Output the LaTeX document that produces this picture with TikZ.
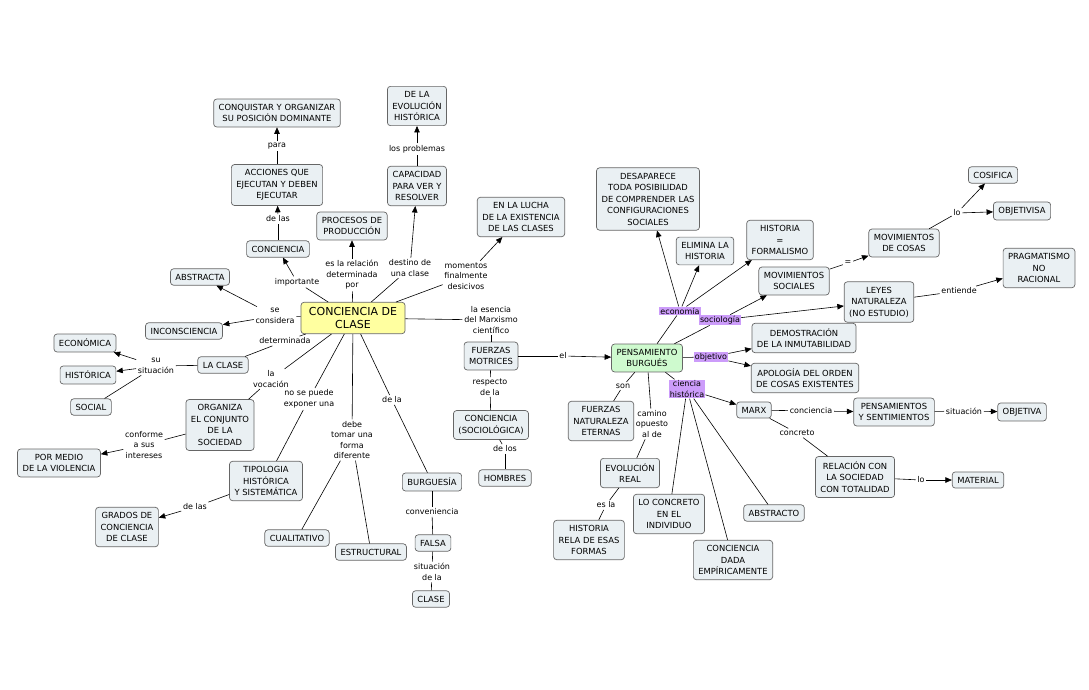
\documentclass[tikz,border=0pt]{standalone}
\usepackage{fontspec}
\setmainfont{DejaVu Sans}
\usetikzlibrary{arrows.meta}

\definecolor{boxfill}{RGB}{234,240,243}
\definecolor{cdcfill}{RGB}{255,255,160}
\definecolor{pbfill}{RGB}{206,250,206}
\definecolor{tagfill}{RGB}{204,156,250}

\begin{document}
\begin{tikzpicture}[x=1pt,y=-1pt,
  >={Triangle[length=6.5pt,width=5.5pt]}, line width=0.6pt,
  concept/.style={draw=black!60, line width=0.7pt, fill=boxfill, rounded corners=3pt, align=center,
    inner xsep=5pt, inner ysep=5pt, font=\fontsize{8.4}{11.5}\selectfont},
  linking/.style={inner sep=1.5pt, align=center, font=\fontsize{8}{10.5}\selectfont},
  tagged/.style={linking, fill=tagfill, inner sep=1pt}]
  \useasboundingbox (0,0) rectangle (1089,689);

  % conceptos
  \node[concept, fill=cdcfill, inner xsep=8pt, font=\fontsize{11}{13}\selectfont] (cdc) at (353,318) {CONCIENCIA DE\\CLASE};
  \node[concept] (conquistar) at (277,113) {CONQUISTAR Y ORGANIZAR\\SU POSICIÓN DOMINANTE};
  \node[concept] (acciones) at (277,185) {ACCIONES QUE\\EJECUTAN Y DEBEN\\EJECUTAR};
  \node[concept] (conciencia) at (278,249) {CONCIENCIA};
  \node[concept] (procesos) at (352,226) {PROCESOS DE\\PRODUCCIÓN};
  \node[concept] (evolucionh) at (417,106) {DE LA\\EVOLUCIÓN\\HISTÓRICA};
  \node[concept] (capacidad) at (417,186) {CAPACIDAD\\PARA VER Y\\RESOLVER};
  \node[concept] (lucha) at (521,217) {EN LA LUCHA\\DE LA EXISTENCIA\\DE LAS CLASES};
  \node[concept] (abstracta) at (200,277) {ABSTRACTA};
  \node[concept] (inconsciencia) at (184,331) {INCONSCIENCIA};
  \node[concept] (economica) at (85,343) {ECONÓMICA};
  \node[concept] (laclase) at (223,365) {LA CLASE};
  \node[concept] (historica) at (88,375) {HISTÓRICA};
  \node[concept] (social) at (91,407) {SOCIAL};
  \node[concept] (organiza) at (220,425) {ORGANIZA\\EL CONJUNTO\\DE LA\\SOCIEDAD};
  \node[concept] (violencia) at (59,463) {POR MEDIO\\DE LA VIOLENCIA};
  \node[concept] (tipologia) at (266,481) {TIPOLOGIA\\HISTÓRICA\\Y SISTEMÁTICA};
  \node[concept] (grados) at (127,527) {GRADOS DE\\CONCIENCIA\\DE CLASE};
  \node[concept] (cualitativo) at (297,538) {CUALITATIVO};
  \node[concept] (estructural) at (371,552) {ESTRUCTURAL};
  \node[concept] (burguesia) at (432,482) {BURGUESÍA};
  \node[concept] (falsa) at (433,543) {FALSA};
  \node[concept] (clase) at (431,599) {CLASE};
  \node[concept] (motrices) at (491,356) {FUERZAS\\MOTRICES};
  \node[concept] (sociologica) at (491,425) {CONCIENCIA\\(SOCIOLÓGICA)};
  \node[concept] (hombres) at (505,478) {HOMBRES};
  \node[concept, fill=pbfill] (pensamiento) at (647,358) {PENSAMIENTO\\BURGUÉS};
  \node[concept] (desaparece) at (648,199) {DESAPARECE\\TODA POSIBILIDAD\\DE COMPRENDER LAS\\CONFIGURACIONES\\SOCIALES};
  \node[concept] (elimina) at (705,251) {ELIMINA LA\\HISTORIA};
  \node[concept] (formalismo) at (780,240) {HISTORIA\\=\\FORMALISMO};
  \node[concept] (movsociales) at (794,281) {MOVIMIENTOS\\SOCIALES};
  \node[concept] (movcosas) at (904,243) {MOVIMIENTOS\\DE COSAS};
  \node[concept] (cosifica) at (993,175) {COSIFICA};
  \node[concept] (objetivisa) at (1022,211) {OBJETIVISA};
  \node[concept] (pragmatismo) at (1039,268) {PRAGMATISMO\\NO\\RACIONAL};
  \node[concept] (leyes) at (879,302) {LEYES\\NATURALEZA\\(NO ESTUDIO)};
  \node[concept] (demostracion) at (804,338) {DEMOSTRACIÓN\\DE LA INMUTABILIDAD};
  \node[concept] (apologia) at (805,378) {APOLOGÍA DEL ORDEN\\DE COSAS EXISTENTES};
  \node[concept] (marx) at (754,410) {MARX};
  \node[concept] (sentimientos) at (894,412) {PENSAMIENTOS\\Y SENTIMIENTOS};
  \node[concept] (objetiva) at (1022,412) {OBJETIVA};
  \node[concept] (relacion) at (855,477) {RELACIÓN CON\\LA SOCIEDAD\\CON TOTALIDAD};
  \node[concept] (material) at (978,480) {MATERIAL};
  \node[concept] (eternas) at (601,421) {FUERZAS\\NATURALEZA\\ETERNAS};
  \node[concept] (evolucionr) at (630,473) {EVOLUCIÓN\\REAL};
  \node[concept] (historiarela) at (589,540) {HISTORIA\\RELA DE ESAS\\FORMAS};
  \node[concept] (loconcreto) at (669,514) {LO CONCRETO\\EN EL\\INDIVIDUO};
  \node[concept] (empirica) at (733,560) {CONCIENCIA\\DADA\\EMPÍRICAMENTE};
  \node[concept] (abstracto) at (774,513) {ABSTRACTO};

  % frases de enlace
  \node[linking] (l para) at (277,146) {para};
  \node[linking] (l delas) at (278,219) {de las};
  \node[linking] (l importante) at (297,282) {importante};
  \node[linking] (l relacion) at (352,275) {es la relación\\determinada\\por};
  \node[linking] (l destino) at (410,268) {destino de\\una clase};
  \node[linking] (l problemas) at (417,149) {los problemas};
  \node[linking] (l momentos) at (466,276) {momentos\\finalmente\\desicivos};
  \node[linking] (l considera) at (275,316) {se\\considera};
  \node[linking] (l determinada) at (285,341) {determinada};
  \node[linking] (l situacion) at (156,366) {su\\situación};
  \node[linking] (l vocacion) at (271,379) {la\\vocación};
  \node[linking] (l exponer) at (309,399) {no se puede\\exponer una};
  \node[linking] (l debe) at (352,440) {debe\\tomar una\\forma\\diferente};
  \node[linking] (l dela) at (392,400) {de la};
  \node[linking] (l conforme) at (144,445) {conforme\\a sus\\intereses};
  \node[linking] (l delasb) at (195,507) {de las};
  \node[linking] (l conveniencia) at (432,512) {conveniencia};
  \node[linking] (l situaciondela) at (432,572) {situación\\de la};
  \node[linking] (l esencia) at (491,320) {la esencia\\del Marxismo\\científico};
  \node[linking] (l el) at (563,356) {el};
  \node[linking] (l respecto) at (490,387) {respecto\\de la};
  \node[linking] (l delos) at (505,449) {de los};
  \node[linking] (l son) at (623,386) {son};
  \node[linking] (l camino) at (652,424) {camino\\opuesto\\al de};
  \node[linking] (l esla) at (606,505) {es la};
  \node[linking] (l conciencia) at (811,411) {conciencia};
  \node[linking] (l situacionm) at (964,411) {situación};
  \node[linking] (l concreto) at (797,433) {concreto};
  \node[linking] (l lo) at (921,480) {lo};
  \node[linking] (l igual) at (848,263) {=};
  \node[linking] (l locosas) at (957,213) {lo};
  \node[linking] (l entiende) at (959,291) {entiende};
  \node[tagged] (l economia) at (680,311) {economía};
  \node[tagged] (l sociologia) at (720,320) {sociología};
  \node[tagged] (l objetivo) at (711,357) {objetivo};
  \node[tagged] (l historica) at (687,389) {ciencia\\histórica};

  % conexiones
  \draw (cdc) -- (l importante);
  \draw[->] (l importante) -- (conciencia);
  \draw (conciencia) -- (l delas);
  \draw[->] (l delas) -- (acciones);
  \draw (acciones) -- (l para);
  \draw[->] (l para) -- (conquistar);
  \draw (cdc) -- (l relacion);
  \draw[->] (l relacion) -- (procesos);
  \draw (cdc) -- (l destino);
  \draw[->] (l destino) -- (capacidad);
  \draw (capacidad) -- (l problemas);
  \draw[->] (l problemas) -- (evolucionh);
  \draw (cdc) -- (l momentos);
  \draw[->] (l momentos) -- (lucha);
  \draw (cdc) -- (l considera);
  \draw[->] (l considera) -- (abstracta);
  \draw[->] (l considera) -- (inconsciencia);
  \draw (cdc) -- (l determinada);
  \draw (l determinada) -- (laclase);
  \draw (laclase) -- (l situacion);
  \draw[->] (l situacion) -- (economica);
  \draw[->] (l situacion) -- (historica);
  \draw (l situacion) -- (social);
  \draw (cdc) -- (l vocacion);
  \draw (l vocacion) -- (organiza);
  \draw (organiza) -- (l conforme);
  \draw[->] (l conforme) -- (violencia);
  \draw (cdc) -- (l exponer);
  \draw (l exponer) -- (tipologia);
  \draw (tipologia) -- (l delasb);
  \draw[->] (l delasb) -- (grados);
  \draw (cdc) -- (l debe);
  \draw (l debe) -- (cualitativo);
  \draw (l debe) -- (estructural);
  \draw (cdc) -- (l dela);
  \draw (l dela) -- (burguesia);
  \draw (burguesia) -- (l conveniencia);
  \draw (l conveniencia) -- (falsa);
  \draw (falsa) -- (l situaciondela);
  \draw (l situaciondela) -- (clase);
  \draw (cdc) -- (l esencia);
  \draw (l esencia) -- (motrices);
  \draw (motrices) -- (l el);
  \draw[->] (l el) -- (pensamiento);
  \draw (motrices) -- (l respecto);
  \draw (l respecto) -- (sociologica);
  \draw (sociologica) -- (l delos);
  \draw (l delos) -- (hombres);
  \draw (pensamiento) -- (l economia);
  \draw[->] (l economia) -- (desaparece);
  \draw[->] (l economia) -- (elimina);
  \draw[->] (l economia) -- (formalismo);
  \draw (pensamiento) -- (l sociologia);
  \draw[->] (l sociologia) -- (movsociales);
  \draw[->] (l sociologia) -- (leyes);
  \draw (movsociales) -- (l igual);
  \draw[->] (l igual) -- (movcosas);
  \draw (movcosas) -- (l locosas);
  \draw[->] (l locosas) -- (cosifica);
  \draw[->] (l locosas) -- (objetivisa);
  \draw (leyes) -- (l entiende);
  \draw[->] (l entiende) -- (pragmatismo);
  \draw (pensamiento) -- (l objetivo);
  \draw[->] (l objetivo) -- (demostracion);
  \draw[->] (l objetivo) -- (apologia);
  \draw (pensamiento) -- (l historica);
  \draw[->] (l historica) -- (marx);
  \draw (l historica) -- (loconcreto);
  \draw (l historica) -- (empirica);
  \draw (l historica) -- (abstracto);
  \draw (marx) -- (l conciencia);
  \draw[->] (l conciencia) -- (sentimientos);
  \draw (sentimientos) -- (l situacionm);
  \draw[->] (l situacionm) -- (objetiva);
  \draw (marx) -- (l concreto);
  \draw (l concreto) -- (relacion);
  \draw (relacion) -- (l lo);
  \draw[->] (l lo) -- (material);
  \draw (pensamiento) -- (l son);
  \draw (l son) -- (eternas);
  \draw (pensamiento) -- (l camino);
  \draw (l camino) -- (evolucionr);
  \draw (evolucionr) -- (l esla);
  \draw (l esla) -- (historiarela);
\end{tikzpicture}
\end{document}
